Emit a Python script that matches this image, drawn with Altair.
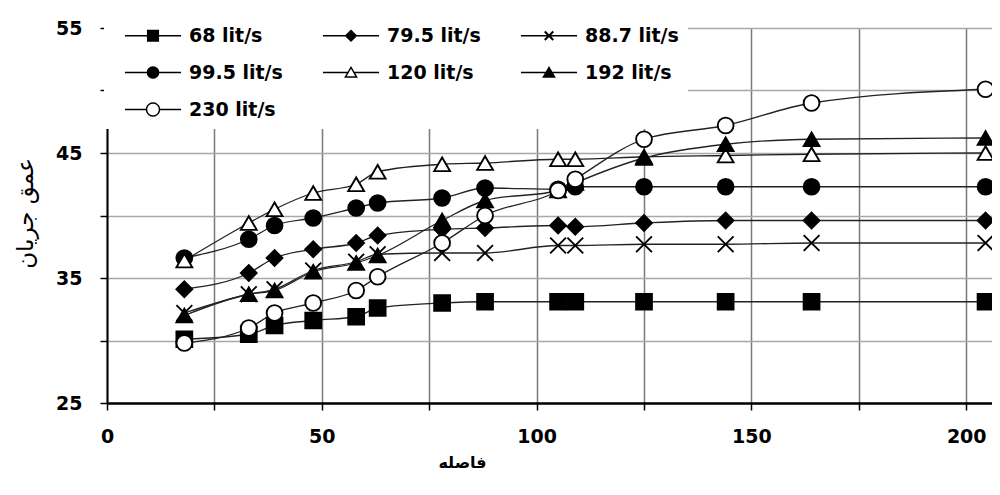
import math
import altair as alt
import pandas as pd

# ---- data ----
distance = [18, 33, 39, 48, 58, 63, 78, 88, 105, 109, 125, 144, 164, 204.5]
series_names = ["68 lit/s", "79.5 lit/s", "88.7 lit/s", "99.5 lit/s", "120 lit/s", "192 lit/s", "230 lit/s"]
q68 = [30.1, 30.5, 31.2, 31.6, 31.9, 32.6, 33.0, 33.1, 33.1, 33.1, 33.1, 33.1, 33.1, 33.1]
q79 = [34.1, 35.4, 36.6, 37.3, 37.8, 38.4, 38.9, 39.0, 39.2, 39.1, 39.4, 39.6, 39.6, 39.6]
q88 = [32.2, 33.7, 34.1, 35.6, 36.3, 36.9, 37.0, 37.0, 37.6, 37.6, 37.7, 37.7, 37.8, 37.8]
q99 = [36.6, 38.1, 39.2, 39.8, 40.6, 41.0, 41.4, 42.2, 42.1, 42.3, 42.3, 42.3, 42.3, 42.3]
q120 = [36.4, 39.4, 40.5, 41.8, 42.5, 43.5, 44.1, 44.2, 44.5, 44.5, 44.7, 44.8, 44.9, 45.0]
q192 = [32.0, 33.7, 34.0, 35.5, 36.2, 36.8, 39.6, 41.2, 42.0, 42.6, 44.6, 45.7, 46.1, 46.2]
q230 = [29.8, 31.0, 32.2, 33.0, 34.0, 35.1, 37.8, 40.0, 42.0, 42.9, 46.1, 47.2, 49.0, 50.1]
x_ticks = [0, 25, 50, 75, 100, 125, 150, 175, 200]
y_ticks = [25, 30, 35, 40, 45, 50, 55]

all_series = [q68, q79, q88, q99, q120, q192, q230]
rows = []
for name, vals in zip(series_names, all_series):
    for xv, yv in zip(distance, vals):
        rows.append({"series": name, "x": xv, "y": yv})
df = pd.DataFrame(rows)

# ---- marker styles ----
XPATH = "M-1,-1L1,1M-1,1L1,-1"
plot_shapes = ["square", "diamond", XPATH, "circle", "triangle-up", "triangle-up", "circle"]
fills = ["black", "black", "black", "black", "white", "black", "white"]


def f(v):
    return f"{v:.3f}"


def poly(pts):
    return "M" + "L".join(f"{f(x)},{f(y)}" for x, y in pts) + "Z"


def circle_pts(r, n=20, cw=True):
    pts = [(r * math.cos(2 * math.pi * k / n), r * math.sin(2 * math.pi * k / n)) for k in range(n)]
    return pts if cw else pts[::-1]


def hline(x0, x1, h=0.13):
    return poly([(x0, -h), (x1, -h), (x1, h), (x0, h)])


L = 5.1
full_line = hline(-L, L)
tri_out = [(0, -1.2), (1.25, 0.95), (-1.25, 0.95)]
tri_in = [(0, -0.663), (-0.781, 0.68), (0.781, 0.68)]
legend_shapes = [
    full_line + poly([(-1.1, -1.1), (1.1, -1.1), (1.1, 1.1), (-1.1, 1.1)]),
    full_line + poly([(-1.15, 0), (0, -1.15), (1.15, 0), (0, 1.15)]),
    full_line
    + poly([(-0.9, -0.64), (-0.64, -0.9), (0.9, 0.64), (0.64, 0.9)])
    + poly([(0.64, -0.9), (0.9, -0.64), (-0.64, 0.9), (-0.9, 0.64)]),
    full_line + poly(circle_pts(1.15)),
    hline(-L, -0.55) + hline(0.55, L) + poly(tri_out) + poly(tri_in),
    full_line + poly(tri_out),
    hline(-L, -1.15) + hline(1.15, L) + poly(circle_pts(1.32)) + poly(circle_pts(1.05, cw=False)),
]

FONT = "DejaVu Sans"

x_enc = alt.X(
    "x:Q",
    scale=alt.Scale(domain=[0, 206], nice=False, zero=False),
    axis=alt.Axis(
        values=x_ticks,
        labelExpr="datum.value % 50 == 0 ? datum.label : ''",
        title="فاصله",
        titleX=355, titleY=59, titleAlign="center", titleBaseline="middle",
        titleFont=FONT, titleFontSize=16, titleFontWeight="bold", titleColor="black",
        grid=True, gridColor="#7a7a7a", gridWidth=1.5,
        domainColor="black", domainWidth=2.5,
        tickColor="black", tickSize=7, tickWidth=1.5,
        labelFont=FONT, labelFontSize=19, labelFontWeight="bold", labelColor="black",
        labelPadding=17, labelFlush=False, labelOverlap=False,
    ),
)
y_enc = alt.Y(
    "y:Q",
    scale=alt.Scale(domain=[25, 55], nice=False, zero=False),
    axis=alt.Axis(
        values=y_ticks,
        labelExpr="datum.value % 10 == 5 ? datum.label : ''",
        title="عمق جریان",
        titleX=-82, titleY=185, titleAlign="center", titleBaseline="middle", titleAngle=270,
        titleFont=FONT, titleFontSize=23, titleFontWeight="normal", titleColor="black",
        grid=True, gridColor="#a8a8a8", gridWidth=1.5,
        domainColor="black", domainWidth=2,
        tickColor="black", tickSize=7, tickWidth=1.5,
        labelFont=FONT, labelFontSize=19, labelFontWeight="bold", labelColor="black",
        labelPadding=18, labelFlush=False, labelOverlap=False,
    ),
)

base = alt.Chart(df)

lines = base.mark_line(color="#222222", strokeWidth=1.3, interpolate="monotone").encode(
    x=x_enc, y=y_enc, detail="series:N"
)

points = base.mark_point(size=250, stroke="black", strokeWidth=1.9, opacity=1).encode(
    x=x_enc,
    y=y_enc,
    shape=alt.Shape("series:N", scale=alt.Scale(domain=series_names, range=plot_shapes), legend=None),
    fill=alt.Fill("series:N", scale=alt.Scale(domain=series_names, range=fills), legend=None),
)

leg = alt.Legend(
    title=None, orient="none", direction="horizontal", legendX=-3, legendY=-10,
    columns=3, padding=8, fillColor="white", strokeColor="white",
    labelFont=FONT, labelFontSize=19, labelFontWeight="bold", labelColor="black",
    symbolOffset=31.5, labelOffset=26.5, gridAlign="all", columnPadding=27, rowPadding=17,
    symbolSize=121, symbolStrokeWidth=0, symbolFillColor="black", symbolOpacity=1,
    labelLimit=0,
)

legend_layer = base.transform_filter("false").mark_point(
    size=121, filled=True, color="black", strokeWidth=0, opacity=1
).encode(
    x=x_enc,
    y=y_enc,
    shape=alt.Shape("series:N", scale=alt.Scale(domain=series_names, range=legend_shapes), legend=leg),
)

chart = alt.layer(lines, points, legend_layer).resolve_scale(
    shape="independent"
).properties(
    width=885, height=375,
    autosize=alt.AutoSizeParams(type="none"),
    padding={"left": 99, "top": 20, "right": 0, "bottom": 80},
    background="white",
).configure_view(strokeWidth=0)

chart.save("out.html", embed_options={"renderer": "svg", "actions": False})
